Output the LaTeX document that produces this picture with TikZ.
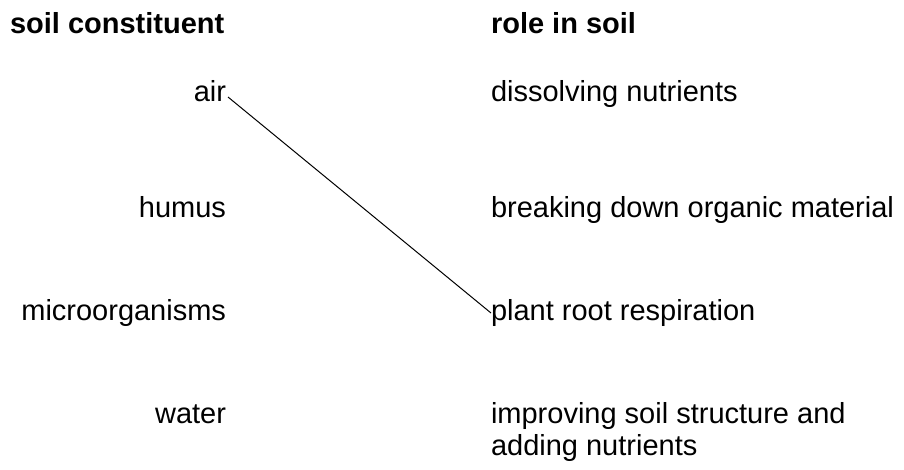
\documentclass[tikz,border=0pt]{standalone}
\usepackage{fontspec}
\setmainfont{Liberation Sans}
\begin{document}
\begin{tikzpicture}[x=1pt,y=-1pt,
  every node/.style={inner sep=0pt,outer sep=0pt,font=\fontsize{29}{32}\selectfont},
  hdr/.style={anchor=base west,font=\fontsize{29}{32}\selectfont\bfseries},
  lft/.style={anchor=base east},
  rgt/.style={anchor=base west},
  link/.style={draw=black,line width=1pt}]
\useasboundingbox (0,0) rectangle (904,469);
\node[hdr] (h1) at (10,33) {soil constituent};
\node[hdr] (h2) at (491,33) {role in soil};
\node[lft] (air) at (226,101) {air};
\node[lft] (humus) at (226,217) {humus};
\node[lft] (micro) at (226,320) {microorganisms};
\node[lft] (water) at (226,423) {water};
\node[rgt] (diss) at (491,101) {dissolving nutrients};
\node[rgt] (break) at (491,217) {breaking down organic material};
\node[rgt] (plant) at (491,320) {plant root respiration};
\node[rgt] (impr) at (491,423) {improving soil structure and};
\node[rgt] (add) at (491,455) {adding nutrients};
\draw[link] ([shift={(2pt,4pt)}]air.base east) -- ([shift={(0pt,7pt)}]plant.base west);
\end{tikzpicture}
\end{document}
